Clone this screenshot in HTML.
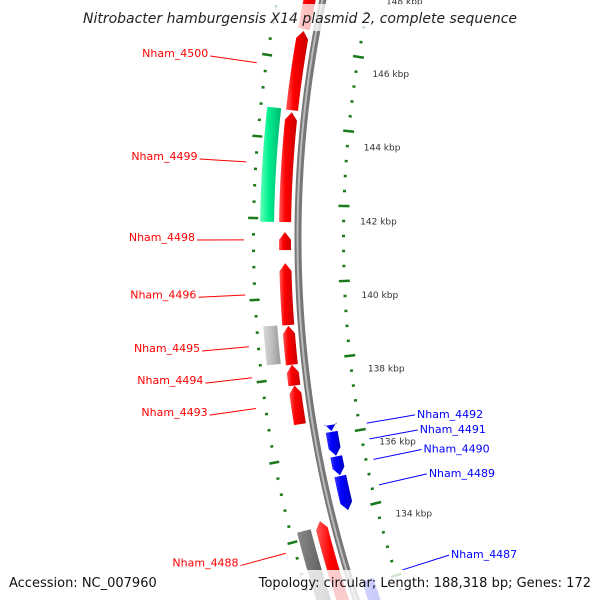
<!DOCTYPE html>
<html><head><meta charset="utf-8"><style>
html,body{margin:0;padding:0;background:#fff;width:600px;height:600px;overflow:hidden}
svg{display:block;font-family:"DejaVu Sans","Liberation Sans",sans-serif}
</style></head><body>
<svg id="map" width="600" height="600" viewBox="0 0 600 600" xmlns="http://www.w3.org/2000/svg">
<defs>
<linearGradient id="gRed" x1="0" x2="1" y1="0" y2="0"><stop offset="0" stop-color="#ff5a5a"/><stop offset="0.35" stop-color="#ff0000"/><stop offset="1" stop-color="#c80000"/></linearGradient>
<linearGradient id="gBlue" x1="0" x2="1" y1="0" y2="0"><stop offset="0" stop-color="#3a3aff"/><stop offset="0.4" stop-color="#0000ff"/><stop offset="1" stop-color="#0000c0"/></linearGradient>
<linearGradient id="gGreen" x1="0" x2="1" y1="0" y2="0"><stop offset="0" stop-color="#66ffbb"/><stop offset="0.4" stop-color="#00f090"/><stop offset="1" stop-color="#00b870"/></linearGradient>
<linearGradient id="gLGrey" x1="0" x2="1" y1="0" y2="0"><stop offset="0" stop-color="#d8d8d8"/><stop offset="0.5" stop-color="#bdbdbd"/><stop offset="1" stop-color="#999"/></linearGradient>
<linearGradient id="gDGrey" x1="0" x2="1" y1="0" y2="0"><stop offset="0" stop-color="#888"/><stop offset="0.5" stop-color="#666"/><stop offset="1" stop-color="#444"/></linearGradient>
</defs>
<g id="ticks"></g>
<g id="backbone"></g>
<g id="features"></g>
<g id="labels"></g>
<rect x="84" y="4" width="432" height="27" fill="#fff" fill-opacity="0.75"/>
<text x="300" y="23" text-anchor="middle" font-size="14" font-style="italic" fill="#222">Nitrobacter hamburgensis X14 plasmid 2, complete sequence</text>
<rect x="282" y="570" width="318" height="30" fill="#fff" fill-opacity="0.8"/>
<text x="9" y="587" font-size="13" fill="#111">Accession: NC_007960</text>
<text x="591" y="587" text-anchor="end" font-size="13" fill="#111">Topology: circular; Length: 188,318 bp; Genes: 172</text>
</svg>
<script>
// ---- data (kbp) ----
const tickMajorKbp = [148,146,144,142,140,138,136,134];
const tickLabels = ["148 kbp","146 kbp","144 kbp","142 kbp","140 kbp","138 kbp","136 kbp","134 kbp"];
const redStarts = [148.3,146.82,144.74,141.70,140.91,139.32,138.33,137.80,134.30];
const redEnds   = [146.87,144.79,141.95,141.24,139.34,138.33,137.80,136.81,131.5];
const blueStarts = [136.66,136.48,135.83,135.31,132.52];
const blueEnds   = [136.50,135.85,135.33,134.40,131.5];
const greenStarts = [144.81];
const greenEnds = [141.95];
const greyStarts = [139.35,134.16];
const greyEnds = [138.38,131.5];
const greyKinds = ["light","dark"];
const redLabelNames = ["Nham_4500","Nham_4499","Nham_4498","Nham_4496","Nham_4495","Nham_4494","Nham_4493","Nham_4488"];
const redLabelKbp = [145.85,143.41,141.50,140.15,138.88,138.12,137.36,133.74];
const blueLabelNames = ["Nham_4492","Nham_4491","Nham_4490","Nham_4489","Nham_4487"];
const blueLabelKbp = [136.55,136.12,135.56,134.86,132.49];

// ---- geometry (circle centre lies to the right) ----
const NS='http://www.w3.org/2000/svg';
const CX=1450, CY=238, RB=1152;
const K=0.03388, A0=-0.01536;
function ang(p){return A0+(142-p)*K;}
function pt(r,a){return [CX-r*Math.cos(a), CY+r*Math.sin(a)];}
function el(tag,attrs,parent){const e=document.createElementNS(NS,tag);for(const k in attrs)e.setAttribute(k,attrs[k]);parent.appendChild(e);return e;}
const gT=document.getElementById('ticks'),gB=document.getElementById('backbone'),gF=document.getElementById('features'),gL=document.getElementById('labels');

function arcPath(r,a1,a2){let d='';const n=80;for(let i=0;i<=n;i++){const a=a1+(a2-a1)*i/n;const q=pt(r,a);d+=(i?'L':'M')+q[0].toFixed(2)+' '+q[1].toFixed(2);}return d;}
let bb=el('path',{d:arcPath(RB,-0.23,0.34),fill:'none',stroke:'#777','stroke-width':7},gB);


let bb2=el('path',{d:arcPath(RB+0.5,-0.23,0.34),fill:'none',stroke:'#bbb','stroke-width':2},gB);



// outer (right) ticks every 0.4 kbp
for(let i=0;i<=45;i++){
  const p=149.2-i*0.4; const a=ang(p); const major=(i%5===2);
  const r1=major?1112:1108, r2=major?1101:1105;
  const q1=pt(r1,a),q2=pt(r2,a);
  const t=el('line',{x1:q1[0],y1:q1[1],x2:q2[0],y2:q2[1],stroke:'#1a7a1a','stroke-width':2.5},gT);
  
  
}
tickMajorKbp.forEach((p,i)=>{
  const q=pt(1090,ang(p));
  const t=el('text',{x:q[0],y:q[1]+3,'font-size':9,fill:'#333'},gT);
  t.textContent=tickLabels[i];
  
  
});
// inner (left) ring ticks
for(let i=-14;i<=30;i++){
  const a=-0.0167+i*0.0137; const major=(((i%5)+5)%5===0);
  const r1=major?1202:1198, r2=major?1192:1195;
  const q1=pt(r1,a),q2=pt(r2,a);
  const t=el('line',{x1:q1[0],y1:q1[1],x2:q2[0],y2:q2[1],stroke:'#1a7a1a','stroke-width':2.5},gT);
  
  
}

function feature(pStart,pEnd,rc,w,fill,headAtStart,headAtEnd,name){
  const a1=ang(pStart),a2=ang(pEnd);
  const head=0.2*K*((a2>a1)?1:-1);
  const ri=rc-w/2, ro=rc+w/2;
  let b1=a1+(headAtStart?head:0), b2=a2-(headAtEnd?head:0);
  let pts=[];const n=40;
  for(let i=0;i<=n;i++)pts.push(pt(ro,b1+(b2-b1)*i/n));
  if(headAtEnd)pts.push(pt(rc,a2));
  for(let i=n;i>=0;i--)pts.push(pt(ri,b1+(b2-b1)*i/n));
  if(headAtStart)pts.push(pt(rc,a1));
  const p=el('polygon',{points:pts.map(q=>q[0].toFixed(2)+','+q[1].toFixed(2)).join(' '),fill:fill},gF);
  
  
}
greenStarts.forEach((s,i)=>feature(s,greenEnds[i],1183,14,'url(#gGreen)',false,false,'green-feature'));
greyStarts.forEach((s,i)=>feature(s,greyEnds[i],1183,14,greyKinds[i]==='light'?'url(#gLGrey)':'url(#gDGrey)',false,false,'grey-feature'));
redStarts.forEach((s,i)=>feature(s,redEnds[i],1165,12,'url(#gRed)',true,false,'forward-gene'));
blueStarts.forEach((s,i)=>feature(s,blueEnds[i],1135,12,'url(#gBlue)',false,true,'reverse-gene'));

redLabelNames.forEach((nm,i)=>{
  const a=ang(redLabelKbp[i]);const q1=pt(1206,a),q2=pt(1253,a);
  const l=el('line',{x1:q1[0],y1:q1[1],x2:q2[0],y2:q2[1],stroke:'#f00','stroke-width':1},gL);
  
  
  const t=el('text',{x:q2[0]-2,y:q2[1]+1,'text-anchor':'end','font-size':11,fill:'#f00'},gL);
  t.textContent=nm;
  
  
});
blueLabelNames.forEach((nm,i)=>{
  const a=ang(blueLabelKbp[i]);const q1=pt(1099,a),q2=pt(1050,a);
  const l=el('line',{x1:q1[0],y1:q1[1],x2:q2[0],y2:q2[1],stroke:'#00f','stroke-width':1},gL);
  
  
  const t=el('text',{x:q2[0]+2,y:q2[1]+3,'font-size':11,fill:'#00f'},gL);
  t.textContent=nm;
  
  
});
</script>
</body></html>
